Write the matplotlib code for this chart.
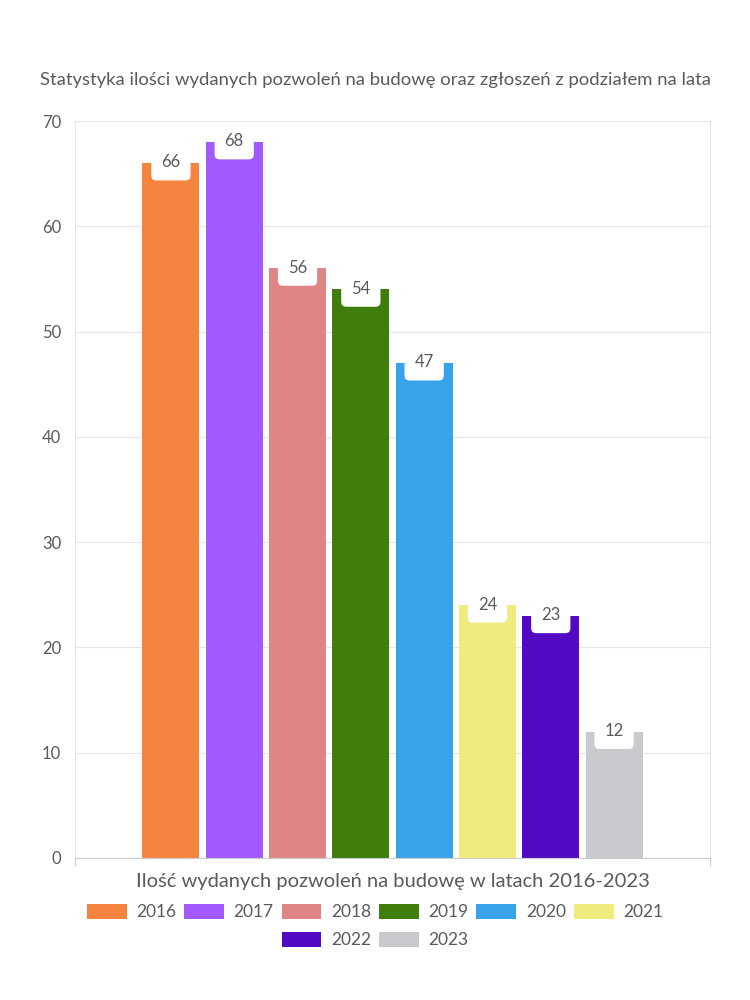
import matplotlib
matplotlib.use("Agg")
import matplotlib.pyplot as plt
from matplotlib.patches import Patch

years = ["2016", "2017", "2018", "2019", "2020", "2021", "2022", "2023"]
values = [66, 68, 56, 54, 47, 24, 23, 12]
colors = ["#F5843F", "#A259FD", "#E08585", "#3F7D0C", "#38A3EB", "#F0EB7D", "#520BC3", "#C9CACE"]
title = "Statystyka ilości wydanych pozwoleń na budowę oraz zgłoszeń z podziałem na lata"
xlabel = "Ilość wydanych pozwoleń na budowę w latach 2016-2023"
yticks = [0, 10, 20, 30, 40, 50, 60, 70]

plt.rcParams['font.family'] = ['Lato', 'DejaVu Sans']
txt = "#5a5a5a"

fig = plt.figure(figsize=(7.5, 10), dpi=100)
ax = fig.add_axes([75/750, 1-858/1000, 635/750, (858-121)/1000])

xs = list(range(len(years)))
ax.bar(xs, values, width=0.9, color=colors, zorder=2)
ax.set_xlim(-1.515, 8.515)
ax.set_ylim(0, 70)
ax.set_yticks(yticks)
ax.tick_params(axis='y', length=0, labelsize=12, labelcolor=txt, pad=10)
ax.set_xticks([-1.515, 8.515])
ax.set_xticklabels(["", ""])
ax.tick_params(axis='x', length=6, color="#cccccc")
ax.grid(axis='y', color="#e6e6e6", linewidth=0.8, zorder=0)
for s in ['left', 'right', 'top']:
    ax.spines[s].set_color("#e6e6e6")
    ax.spines[s].set_linewidth(0.8)
ax.spines['top'].set_visible(False)
ax.spines['bottom'].set_color("#cccccc")

for x, v in zip(xs, values):
    ax.annotate(str(v), (x, v), xytext=(0, 0.5), textcoords='offset points',
                ha='center', va='center', fontsize=12, color=txt, zorder=4,
                bbox=dict(boxstyle="round,pad=0.6,rounding_size=0.3", fc="white", ec="none"))

ax.set_xlabel(xlabel, fontsize=14.5, color=txt, labelpad=1)
fig.text(0.5, 1-80/1000, title, ha='center', va='center', fontsize=13.3, color=txt)

handles = [Patch(facecolor=c, edgecolor='none') for c in colors]
fig.legend(handles[:6], years[:6], loc='center', bbox_to_anchor=(0.5, 1-912/1000),
           ncol=6, frameon=False, fontsize=12.5, handlelength=2.3, handleheight=1.0,
           handletextpad=0.55, columnspacing=0.45, labelcolor=txt)
fig.legend(handles[6:], years[6:], loc='center', bbox_to_anchor=(0.5, 1-940/1000),
           ncol=2, frameon=False, fontsize=12.5, handlelength=2.3, handleheight=1.0,
           handletextpad=0.55, columnspacing=0.45, labelcolor=txt)

fig.savefig("out.png", dpi=100, facecolor="white")
